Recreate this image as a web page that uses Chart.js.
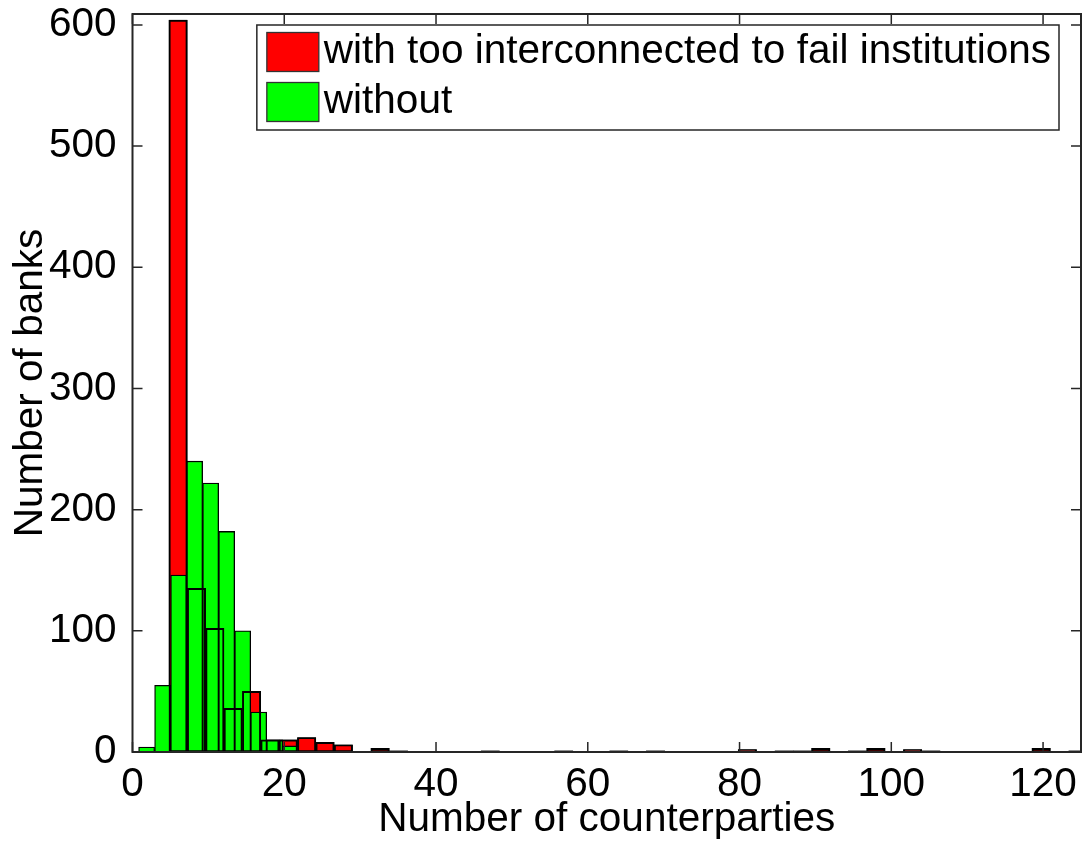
<!DOCTYPE html>
<html>
<head>
<meta charset="utf-8">
<title>Number of counterparties</title>
<script src="https://cdn.jsdelivr.net/npm/chart.js@4.4.1/dist/chart.umd.min.js"></script>
<style>
  html, body { margin: 0; padding: 0; background: #fff; }
  #wrap { width: 1086px; height: 844px; }
</style>
</head>
<body>
<div id="wrap"><canvas id="hist" width="1086" height="844"></canvas></div>
<script>
// Histogram of counterparties per bank, two overlaid series (MATLAB hist style)

const X_TICKS = [0, 20, 40, 60, 80, 100, 120];
const Y_TICKS = [0, 100, 200, 300, 400, 500, 600];

const WITH_LABEL = 'with too interconnected to fail institutions';
const WITHOUT_LABEL = 'without';

// "with" series: 50 bins, width ~2.42
const withBinWidth = 2.42;
const withCenters = [
  6.01, 8.43, 10.85, 13.27, 15.69, 18.11, 20.53, 22.95, 25.37, 27.79,
  30.21, 32.63, 35.05, 37.47, 39.89, 42.31, 44.73, 47.15, 49.57, 51.99,
  54.41, 56.83, 59.25, 61.67, 64.09, 66.51, 68.93, 71.35, 73.77, 76.19,
  78.61, 81.03, 83.45, 85.87, 88.29, 90.71, 93.13, 95.55, 97.97, 100.39,
  102.81, 105.23, 107.65, 110.07, 112.49, 114.91, 117.33, 119.75, 122.17, 124.59
];
const withCounts = [
  604, 135, 102, 36, 50, 10, 10, 12, 8, 6,
  0, 3, 1, 0, 0, 0, 0, 1, 0, 0,
  0, 1, 0, 0, 1, 0, 1, 0, 0, 0,
  0, 2, 0, 1, 1, 3, 0, 1, 3, 0,
  2, 1, 0, 0, 0, 0, 0, 3, 0, 1
];

// "without" series: 10 bins, width ~2.11
const withoutBinWidth = 2.11;
const withoutCenters = [1.86, 3.97, 6.08, 8.19, 10.30, 12.41, 14.52, 16.63, 18.74, 20.85];
const withoutCounts = [4, 55, 146, 240, 222, 182, 100, 33, 10, 5];

const FONT = '"Liberation Sans", Arial, Helvetica, sans-serif';
const FONT_SIZE = 40.5;
const AXIS_COLOR = '#262626';

Chart.defaults.font.family = FONT;
Chart.defaults.font.size = FONT_SIZE;
Chart.defaults.color = '#000';

const toPoints = (xs, ys) => xs.map((x, i) => ({ x: x, y: ys[i] }));

const barCommon = {
  grouped: false,
  barPercentage: 1,
  categoryPercentage: 1,
  borderSkipped: false,
  borderColor: '#000',
  borderWidth: 1.3,
};

// box + inward ticks on all four sides
const matlabAxes = {
  id: 'matlabAxes',
  afterDatasetsDraw(chart) {
    const { ctx, chartArea: a, scales: { x, y } } = chart;
    ctx.save();
    ctx.strokeStyle = AXIS_COLOR;
    ctx.lineWidth = 1.5;
    ctx.beginPath();
    x.ticks.forEach(t => {
      const px = x.getPixelForValue(t.value);
      ctx.moveTo(px, a.bottom); ctx.lineTo(px, a.bottom - 10);
      ctx.moveTo(px, a.top); ctx.lineTo(px, a.top + 10);
    });
    y.ticks.forEach(t => {
      const py = y.getPixelForValue(t.value);
      ctx.moveTo(a.left, py); ctx.lineTo(a.left + 10, py);
      ctx.moveTo(a.right, py); ctx.lineTo(a.right - 10, py);
    });
    ctx.stroke();
    ctx.lineWidth = 2;
    ctx.strokeRect(a.left, a.top, a.right - a.left, a.bottom - a.top);
    ctx.restore();
  }
};

// boxed legend in the top right corner of the axes
const boxLegend = {
  id: 'boxLegend',
  afterDraw(chart) {
    const { ctx, chartArea: a } = chart;
    const items = chart.data.datasets.filter(ds => !ds.hideInLegend);
    ctx.save();
    ctx.font = FONT_SIZE + 'px ' + FONT;
    const textW = Math.max(...items.map(ds => ctx.measureText(ds.label).width));
    const right = a.right - 22;
    const top = a.top + 11;
    const textX = right - 8 - textW;
    const swW = 52, swH = 39;
    const swX = textX - 5 - swW;
    const left = swX - 10;
    const rowH = 50;
    const height = 105;

    ctx.fillStyle = '#fff';
    ctx.fillRect(left, top, right - left, height);
    ctx.strokeStyle = AXIS_COLOR;
    ctx.lineWidth = 1.5;
    ctx.strokeRect(left, top, right - left, height);

    items.forEach((ds, i) => {
      const cy = top + 27 + i * rowH;
      ctx.fillStyle = ds.backgroundColor;
      ctx.fillRect(swX, cy - swH / 2, swW, swH);
      ctx.strokeStyle = '#333';
      ctx.lineWidth = 1.3;
      ctx.strokeRect(swX, cy - swH / 2, swW, swH);
      ctx.fillStyle = '#000';
      ctx.textBaseline = 'middle';
      ctx.textAlign = 'left';
      ctx.fillText(ds.label, textX, cy);
    });
    ctx.restore();
  }
};

const chart = new Chart(document.getElementById('hist'), {
  type: 'bar',
  data: {
    datasets: [
      Object.assign({}, barCommon, {
        label: WITH_LABEL,
        data: toPoints(withCenters, withCounts),
        backgroundColor: '#ff0000',
        binWidth: withBinWidth,
        order: 3,
      }),
      Object.assign({}, barCommon, {
        label: WITHOUT_LABEL,
        data: toPoints(withoutCenters, withoutCounts),
        backgroundColor: '#00ff00',
        binWidth: withoutBinWidth,
        order: 2,
      }),
      // edges of the red bars stay visible over the green ones
      Object.assign({}, barCommon, {
        label: 'edges',
        hideInLegend: true,
        data: toPoints(withCenters, withCounts),
        backgroundColor: 'rgba(0,0,0,0)',
        binWidth: withBinWidth,
        order: 1,
      }),
    ]
  },
  plugins: [matlabAxes, boxLegend],
  options: {
    responsive: false,
    animation: false,
    layout: { padding: { top: 14, right: 5, left: 0, bottom: 0 } },
    plugins: {
      legend: { display: false },
      tooltip: { enabled: false },
    },
    scales: {
      x: {
        type: 'linear',
        offset: false,
        min: 0,
        max: 125,
        afterBuildTicks: s => { s.ticks = X_TICKS.map(v => ({ value: v })); },
        afterFit: s => { s.height = 92; s.paddingLeft = 0; s.paddingRight = 0; },
        grid: { display: false },
        border: { display: false },
        ticks: { padding: 1, maxRotation: 0, autoSkip: false },
        title: {
          display: true,
          text: 'Number of counterparties',
          padding: { top: 0, bottom: 0 },
        },
      },
      y: {
        type: 'linear',
        min: 0,
        max: 609,
        afterBuildTicks: s => { s.ticks = Y_TICKS.map(v => ({ value: v })); },
        afterFit: s => { s.width = 132.5; s.paddingTop = 0; s.paddingBottom = 0; },
        grid: { display: false },
        border: { display: false },
        ticks: { padding: 8 },
        title: {
          display: true,
          text: 'Number of banks',
          padding: { top: 7, bottom: 0 },
        },
      },
    },
  },
});

// bar widths follow the bin widths in axis units
function fitBarWidths(c) {
  const x = c.scales.x;
  const pxPerUnit = x.getPixelForValue(1) - x.getPixelForValue(0);
  c.data.datasets.forEach(ds => { ds.barThickness = ds.binWidth * pxPerUnit; });
  c.update('none');
}
fitBarWidths(chart);
</script>
</body>
</html>
